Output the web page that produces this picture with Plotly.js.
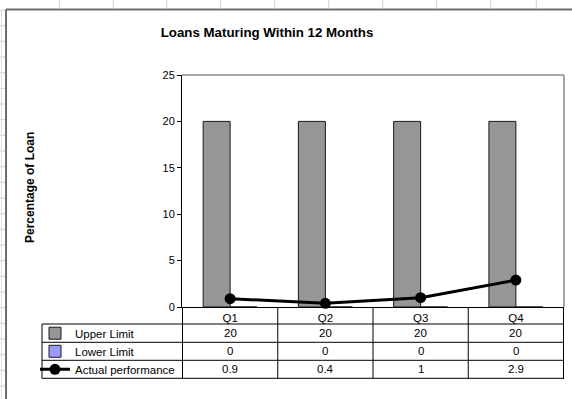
<!DOCTYPE html>
<html><head><meta charset="utf-8">
<script src="https://cdn.plot.ly/plotly-3.0.1.min.js"></script>
<style>html,body{margin:0;padding:0;background:#fff;}#chart{width:572px;height:399px;}</style>
</head><body><div id="chart"></div>
<script>
// ---- data ----
const quarters = ['Q1', 'Q2', 'Q3', 'Q4'];
const upperLimit = [20, 20, 20, 20];
const lowerLimit = [0, 0, 0, 0];
const actualPerformance = [0.9, 0.4, 1, 2.9];
const seriesNames = ['Upper Limit', 'Lower Limit', 'Actual performance'];
const yTickValues = [0, 5, 10, 15, 20, 25];
const chartTitle = 'Loans Maturing Within 12 Months';
const yTitle = 'Percentage of Loan';

// ---- geometry helpers (pixels -> paper) ----
const W = 572, H = 399, L = 182, R = 8, T = 75, B = 92;
const pw = W - L - R, ph = H - T - B;
const X = px => (px - L) / pw;
const Y = py => (H - B - py) / ph;

const FONT = 'Liberation Sans, Arial, sans-serif';
const rowLines = [324, 342.3, 360.3, 378.3];
const rowCenters = [333.2, 351.3, 369.3];
const tableLeft = 42;

const traces = [
  {type: 'bar', name: seriesNames[0], x: quarters, y: upperLimit,
   marker: {color: '#969696', line: {color: '#1a1a1a', width: 1}}, legend: 'legend', hoverinfo: 'skip'},
  {type: 'bar', name: seriesNames[1], x: quarters, y: lowerLimit,
   marker: {color: '#9999FF', line: {color: '#1a1a1a', width: 1}}, legend: 'legend2', hoverinfo: 'skip'},
  {type: 'scatter', mode: 'lines+markers', name: seriesNames[2], x: quarters, y: actualPerformance,
   line: {color: '#000', width: 3}, marker: {color: '#000', size: 11}, legend: 'legend3', hoverinfo: 'skip', cliponaxis: false}
];

const lineStyle = {color: '#000', width: 1};
const shapes = [];
// table horizontal lines
rowLines.forEach(py => shapes.push({type: 'line', xref: 'paper', yref: 'paper', x0: X(tableLeft), x1: 1, y0: Y(py), y1: Y(py), line: lineStyle}));
// table left border
shapes.push({type: 'line', xref: 'paper', yref: 'paper', x0: X(tableLeft), x1: X(tableLeft), y0: Y(rowLines[0]), y1: Y(rowLines[3]), line: lineStyle});
// category column dividers (through the category axis)
[-0.5, 0.5, 1.5, 2.5, 3.5].forEach(c => shapes.push({type: 'line', xref: 'x', yref: 'paper', x0: c, x1: c, y0: 0, y1: Y(rowLines[3]), line: lineStyle}));
// plot area border (top & right)
shapes.push({type: 'line', xref: 'paper', yref: 'paper', x0: 0, x1: 1, y0: 1, y1: 1, line: {color: '#8a8a8a', width: 1.5}});
shapes.push({type: 'line', xref: 'paper', yref: 'paper', x0: 1, x1: 1, y0: 0, y1: 1, line: {color: '#8a8a8a', width: 1.5}});
// chart frame (top & left)
shapes.push({type: 'line', xref: 'paper', yref: 'paper', x0: X(6), x1: X(600), y0: Y(9.5), y1: Y(9.5), line: {color: '#6e6e6e', width: 2}});
shapes.push({type: 'line', xref: 'paper', yref: 'paper', x0: X(6), x1: X(6), y0: Y(9.5), y1: Y(420), line: {color: '#6e6e6e', width: 2}});
// spreadsheet gridlines outside the chart
[59.3, 113.3, 166.7, 220.7, 274.7, 328.7, 382.7, 436.7, 490.7, 536.3].forEach(px =>
  shapes.push({type: 'line', xref: 'paper', yref: 'paper', x0: X(px), x1: X(px), y0: Y(0), y1: Y(8.5), line: {color: '#d0d0d0', width: 1}}));
for (let k = 0; k < 26; k++) {
  const py = 10 + 15.67 * k;
  shapes.push({type: 'line', xref: 'paper', yref: 'paper', x0: X(0), x1: X(5), y0: Y(py), y1: Y(py), line: {color: '#d0d0d0', width: 1}});
}
shapes.push({type: 'line', xref: 'paper', yref: 'paper', x0: X(1.5), x1: X(1.5), y0: Y(9.5), y1: Y(420), line: {color: '#e0e0e0', width: 1}});

const cellFont = {family: FONT, size: 11.5, color: '#000'};
const annotations = [];
[upperLimit, lowerLimit, actualPerformance].forEach((vals, r) => {
  vals.forEach((v, i) => annotations.push({xref: 'x', yref: 'paper', x: quarters[i], y: Y(rowCenters[r]),
    text: String(v), showarrow: false, font: cellFont, xanchor: 'center', yanchor: 'middle'}));
});
annotations.push({xref: 'paper', yref: 'paper', x: X(30), y: Y(188), text: yTitle, textangle: -90, showarrow: false,
  font: {family: FONT, size: 12, color: '#000', weight: 'bold'}, xanchor: 'center', yanchor: 'middle'});

const legendBase = {xanchor: 'left', yanchor: 'middle', bgcolor: 'rgba(0,0,0,0)', borderwidth: 0,
  font: {family: FONT, size: 11.5, color: '#000'}, itemwidth: 30, itemclick: false, itemdoubleclick: false};
const legendX = X(35);

const layout = {
  width: W, height: H,
  margin: {l: L, r: R, t: T, b: B, pad: 0},
  paper_bgcolor: '#fff', plot_bgcolor: '#fff',
  font: {family: FONT, size: 11, color: '#000'},
  title: {text: chartTitle, xref: 'container', yref: 'container', x: 267 / W, xanchor: 'center',
    y: 1 - 32 / H, yanchor: 'middle', font: {family: FONT, size: 13.3, color: '#000', weight: 'bold'}},
  barmode: 'group', bargap: 0.434, bargroupgap: 0,
  showlegend: true,
  legend: Object.assign({}, legendBase, {x: legendX, y: Y(rowCenters[0])}),
  legend2: Object.assign({}, legendBase, {x: legendX, y: Y(rowCenters[1])}),
  legend3: Object.assign({}, legendBase, {x: legendX, y: Y(rowCenters[2])}),
  xaxis: {type: 'category', categoryorder: 'array', categoryarray: quarters, showline: true, linecolor: '#000', linewidth: 1,
    ticks: '', showgrid: false, zeroline: false, tickfont: {family: FONT, size: 11.5, color: '#000'}, fixedrange: true},
  yaxis: {range: [0, 25], tickvals: yTickValues, ticks: 'outside', ticklen: 4, tickcolor: '#000', tickwidth: 1,
    showline: true, linecolor: '#000', linewidth: 1, showgrid: false, zeroline: false,
    tickfont: {family: FONT, size: 11, color: '#000'}, fixedrange: true},
  yaxis2: {overlaying: 'y', side: 'left', range: [0, 25], tickvals: yTickValues, ticks: 'inside', ticklen: 4,
    tickcolor: '#000', tickwidth: 1, showticklabels: false, showline: false, showgrid: false, zeroline: false, fixedrange: true},
  shapes: shapes,
  annotations: annotations
};

Plotly.newPlot('chart', traces, layout, {staticPlot: true, displayModeBar: false});
</script>
</body></html>
